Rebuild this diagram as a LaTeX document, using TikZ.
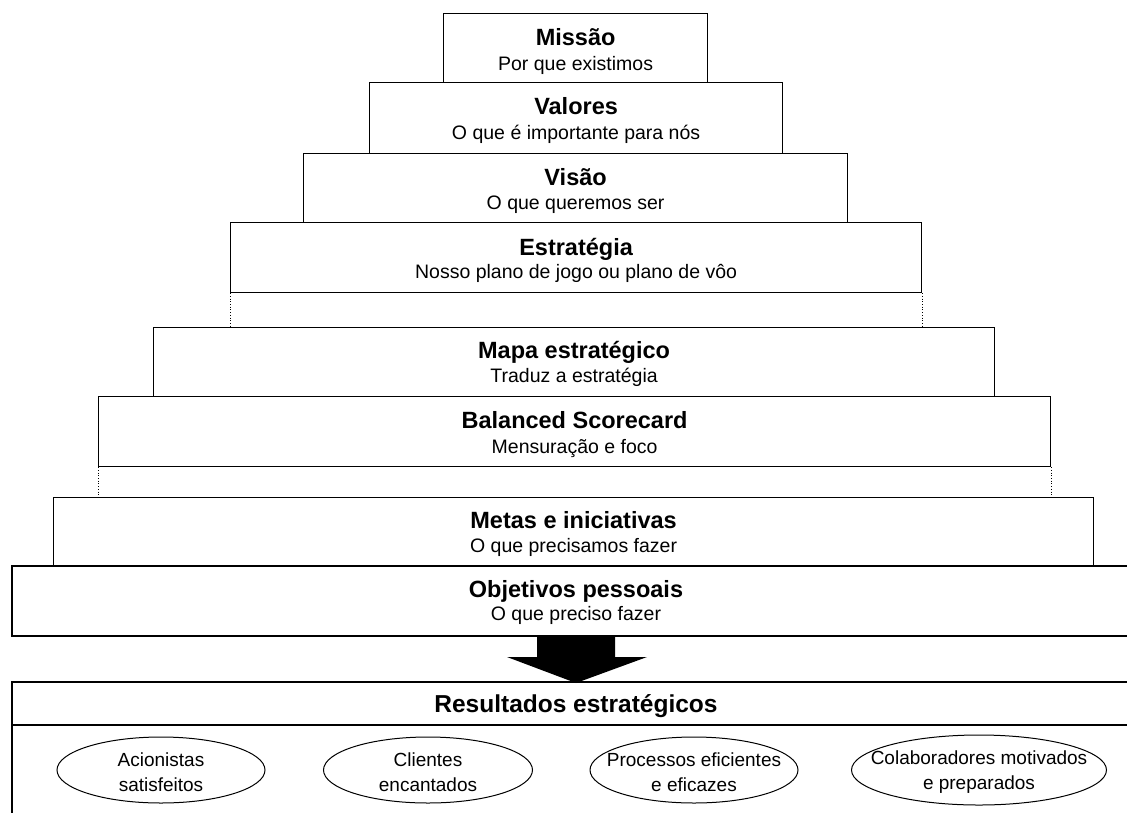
\documentclass[tikz,border=0pt]{standalone}
\usepackage{fontspec}
\setmainfont{Liberation Sans}
\usetikzlibrary{shapes.geometric}
\begin{document}
\begin{tikzpicture}[x=1pt,y=-1pt,
  tier/.style={draw, line width=1.2pt, inner sep=0pt, anchor=north west},
  ttl/.style={anchor=base, inner sep=0pt, font=\fontsize{23.5}{27}\selectfont\bfseries},
  sub/.style={anchor=base, inner sep=0pt, font=\fontsize{19.5}{23}\selectfont},
  link/.style={line width=0.7pt, dotted},
  openbox/.style={line width=1.2pt},
  goal/.style={draw, ellipse, line width=1pt, inner sep=0pt},
  goaltext/.style={inner sep=0pt, align=center, font=\fontsize{19}{25}\selectfont}
]
\useasboundingbox (0,0) rectangle (1127,812);
\clip (0,0) rectangle (1127,812);

% stacked tiers, narrowest on top
\node[tier, minimum width=264pt, minimum height=69pt] (missao) at (443,13) {};
\node[tier, minimum width=413pt, minimum height=71pt] (valores) at (369,82) {};
\node[tier, minimum width=544pt, minimum height=69pt] (visao) at (303,153) {};
\node[tier, minimum width=691pt, minimum height=70pt] (estrategia) at (230,222) {};
\node[tier, minimum width=841pt, minimum height=69pt] (mapa) at (153,327) {};
\node[tier, minimum width=952pt, minimum height=70pt] (bsc) at (98,396) {};
\node[tier, minimum width=1040pt, minimum height=69pt] (metas) at (53,497) {};

% dotted guides between the separated groups
\draw[link] (estrategia.south west) -- (estrategia.south west |- mapa.north);
\draw[link] (estrategia.south east) -- (estrategia.south east |- mapa.north);
\draw[link] (bsc.south west) -- (bsc.south west |- metas.north);
\draw[link] (bsc.south east) -- (bsc.south east |- metas.north);

% tier labels
\node[ttl] (missaoT) at ([yshift=-32pt]missao.north) {Missão};
\node[sub] (missaoS) at ([yshift=-57pt]missao.north) {Por que existimos};
\node[ttl] (valoresT) at ([yshift=-32pt]valores.north) {Valores};
\node[sub] (valoresS) at ([yshift=-57pt]valores.north) {O que é importante para nós};
\node[ttl] (visaoT) at ([yshift=-32pt]visao.north) {Visão};
\node[sub] (visaoS) at ([yshift=-56pt]visao.north) {O que queremos ser};
\node[ttl] (estrategiaT) at ([yshift=-33pt]estrategia.north) {Estratégia};
\node[sub] (estrategiaS) at ([yshift=-56pt]estrategia.north) {Nosso plano de jogo ou plano de vôo};
\node[ttl] (mapaT) at ([yshift=-31pt]mapa.north) {Mapa estratégico};
\node[sub] (mapaS) at ([yshift=-55pt]mapa.north) {Traduz a estratégia};
\node[ttl] (bscT) at ([yshift=-32pt]bsc.north) {Balanced Scorecard};
\node[sub] (bscS) at ([yshift=-57pt]bsc.north) {Mensuração e foco};
\node[ttl] (metasT) at ([yshift=-31pt]metas.north) {Metas e iniciativas};
\node[sub] (metasS) at ([yshift=-55pt]metas.north) {O que precisamos fazer};

% bottom tier, open to the right
\draw[openbox] (1130,566) -- (12,566) -- (12,636) -- (1130,636);
\coordinate (objetivos) at (576,566);
\node[ttl] (objetivosT) at ([yshift=-31pt]objetivos) {Objetivos pessoais};
\node[sub] (objetivosS) at ([yshift=-54pt]objetivos) {O que preciso fazer};

% block arrow
\fill (537,637) -- (615,637) -- (615,657) -- (647,657) -- (576,683)
  -- (507,657) -- (537,657) -- cycle;

% results panel
\draw[openbox] (1130,682) -- (12,682) -- (12,815);
\draw[openbox] (12,725) -- (1130,725);
\node[anchor=base, inner sep=0pt, font=\fontsize{24.5}{28}\selectfont\bfseries]
  (resultados) at (576,712) {Resultados estratégicos};

\node[goal, minimum width=208pt, minimum height=66pt] (acionistas) at (161,770) {};
\node[goal, minimum width=209pt, minimum height=66pt] (clientes) at (428,770) {};
\node[goal, minimum width=208pt, minimum height=66pt] (processos) at (694,770) {};
\node[goal, minimum width=255pt, minimum height=70pt] (colaboradores) at (979,770) {};
\node[goaltext] (acionistasT) at ([yshift=-2pt]acionistas.center) {Acionistas\\satisfeitos};
\node[goaltext] (clientesT) at ([yshift=-2pt]clientes.center) {Clientes\\encantados};
\node[goaltext] (processosT) at ([yshift=-2pt]processos.center) {Processos eficientes\\e eficazes};
\node[goaltext] (colaboradoresT) at ([yshift=-2pt]colaboradores.center) {Colaboradores motivados\\e preparados};
\end{tikzpicture}
\end{document}
